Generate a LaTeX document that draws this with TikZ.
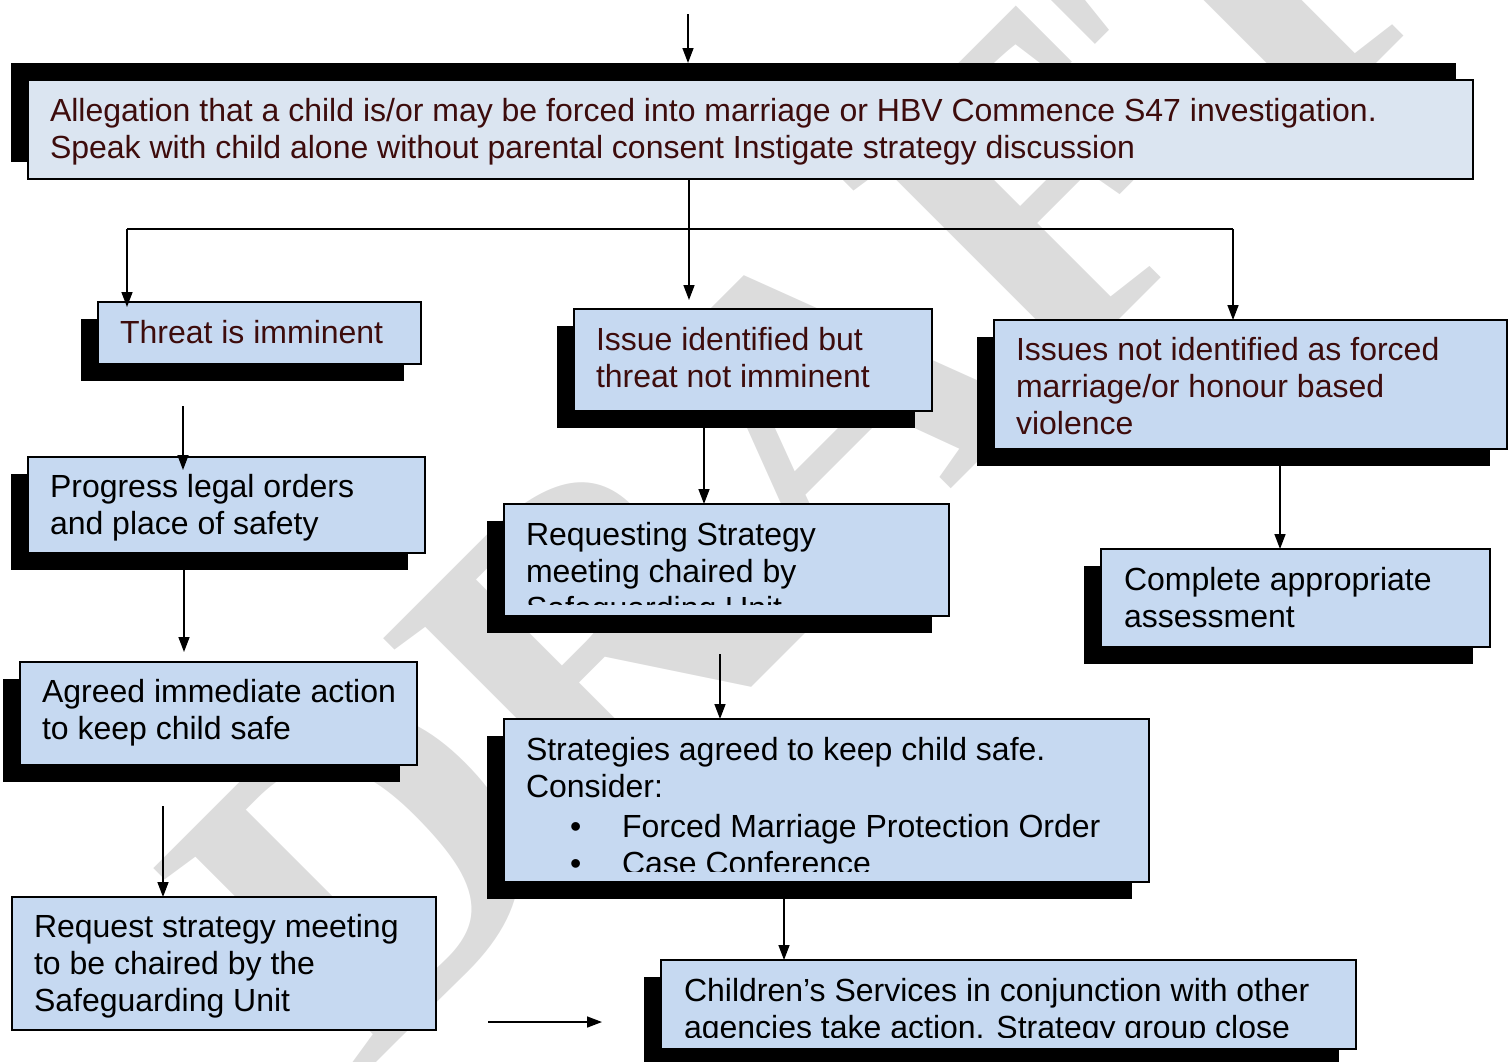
\documentclass[tikz,border=0pt]{standalone}
\usepackage{fontspec}
\setmainfont{Liberation Sans}
\newfontfamily\wmfont{Liberation Serif}
\usetikzlibrary{arrows.meta,shadows,calc}
\definecolor{boxblue}{HTML}{C6D9F1}
\definecolor{boxpale}{HTML}{DBE5F1}
\definecolor{textred}{HTML}{3D0C0C}
\definecolor{wmgray}{HTML}{DCDCDC}
\tikzset{
  box/.style={draw=black, line width=2.2pt, fill=boxblue, anchor=north west,
              inner sep=0pt, outer sep=0pt},
  shadowdl/.style={drop shadow={shadow xshift=-17pt, shadow yshift=-17pt,
              fill=black, opacity=1}},
  shadowul/.style={drop shadow={shadow xshift=-17pt, shadow yshift=17pt,
              fill=black, opacity=1}},
  txt/.style={anchor=base west, inner sep=0pt, outer sep=0pt,
              font=\fontsize{32}{37}\selectfont},
  conn/.style={line width=1.5pt, -{Triangle[length=15pt,width=11pt]}},
  plain/.style={line width=1.5pt},
}
\newcommand\pb[1]{\parbox[t]{1500pt}{\raggedright #1}}
\begin{document}
\begin{tikzpicture}[x=1pt,y=-1pt]
\useasboundingbox (0,0) rectangle (1512,1061);
\clip (0,0) rectangle (1512,1061);

% watermark
\node[rotate=45, text=wmgray, inner sep=0pt,
      font=\wmfont\bfseries\fontsize{450}{450}\selectfont] (wm) at (800,430) {DRAFT};

% boxes
\node[box, shadowul, fill=boxpale, minimum width=1445pt, minimum height=99pt] (top) at (28,80) {};
\node[txt, text=textred] (top-t) at (50,121)
  {\pb{Allegation that a child is/or may be forced into marriage or HBV Commence S47 investigation.\\
       Speak with child alone without parental consent Instigate strategy discussion}};

\node[box, shadowdl, minimum width=323pt, minimum height=62pt] (threat) at (98,302) {};
\node[txt, text=textred] (threat-t) at (120,343) {\pb{Threat is imminent}};

\node[box, shadowdl, minimum width=358pt, minimum height=102pt] (issue) at (574,309) {};
\node[txt, text=textred] (issue-t) at (596,350) {\pb{Issue identified but\\threat not imminent}};

\node[box, shadowdl, minimum width=513pt, minimum height=129pt] (notfm) at (994,320) {};
\node[txt, text=textred] (notfm-t) at (1016,360)
  {\pb{Issues not identified as forced\\marriage/or honour based\\violence}};

\node[box, shadowdl, minimum width=397pt, minimum height=96pt] (legal) at (28,457) {};
\node[txt] (legal-t) at (50,497) {\pb{Progress legal orders\\and place of safety}};

\node[box, shadowdl, minimum width=445pt, minimum height=112pt] (reqsu) at (504,504) {};
\begin{scope}
  \clip (reqsu.north west) rectangle ($(reqsu.south east)+(0,-12)$);
  \node[txt] (reqsu-t) at (526,545)
    {\pb{Requesting Strategy\\meeting chaired by\\Safeguarding Unit}};
\end{scope}

\node[box, shadowdl, minimum width=389pt, minimum height=98pt] (assess) at (1101,549) {};
\node[txt] (assess-t) at (1124,590) {\pb{Complete appropriate\\assessment}};

\node[box, shadowdl, minimum width=397pt, minimum height=103pt] (agreed) at (20,662) {};
\node[txt] (agreed-t) at (42,702) {\pb{Agreed immediate action\\to keep child safe}};

\node[box, shadowdl, minimum width=645pt, minimum height=163pt] (strat) at (504,719) {};
\begin{scope}
  \clip (strat.north west) rectangle ($(strat.south east)+(0,-11)$);
  \node[txt] (strat-t) at (526,760)
    {\pb{Strategies agreed to keep child safe.\\Consider:}};
  \node[txt] (strat-b1) at (570,837) {\pb{•}};
  \node[txt] (strat-i1) at (622,837) {\pb{Forced Marriage Protection Order}};
  \node[txt] (strat-b2) at (570,874) {\pb{•}};
  \node[txt] (strat-i2) at (622,874) {\pb{Case Conference}};
\end{scope}

\node[box, minimum width=424pt, minimum height=133pt] (reqmt) at (12,897) {};
\node[txt] (reqmt-t) at (34,937)
  {\pb{Request strategy meeting\\to be chaired by the\\Safeguarding Unit}};

\node[box, shadowdl, minimum width=695pt, minimum height=89pt] (close) at (661,960) {};
\begin{scope}
  \clip (close.north west) rectangle ($(close.south east)+(0,-12)$);
  \node[txt] (close-t) at (684,1001)
    {\pb{Children’s Services in conjunction with other\\agencies take action. Strategy group close}};
\end{scope}

% connectors
\coordinate (inlet) at (688,14);
\draw[conn, shorten >=17pt] (inlet) -- (inlet |- top.north);

\coordinate (split) at (689,229);
\coordinate (brL) at (127,229);
\coordinate (brR) at (1233,229);
\draw[conn, shorten >=9pt] (top.south -| split) -- (issue.north -| split);
\draw[plain] (brL) -- (brR);
\draw[conn, shorten >=-5pt] (brL) -- (brL |- threat.north);
\draw[conn] (brR) -- (brR |- notfm.north);

\coordinate (tl) at (183,406);
\draw[conn, shorten >=-13pt] (tl) -- (tl |- legal.north);
\coordinate (la) at (184,569);
\draw[conn, shorten >=10pt] (la) -- (la |- agreed.north);
\coordinate (ar) at (163,806);
\draw[conn] (ar) -- (ar |- reqmt.north);

\coordinate (ir) at (704,428);
\draw[conn] (ir) -- (ir |- reqsu.north);
\coordinate (rs) at (720,654);
\draw[conn] (rs) -- (rs |- strat.north);
\coordinate (sc) at (784,898);
\draw[conn] (sc) -- (sc |- close.north);

\coordinate (na) at (1280,466);
\draw[conn] (na) -- (na |- assess.north);

\coordinate (fa) at (488,1022);
\coordinate (fb) at (602,1022);
\draw[conn] (fa) -- (fb);
\end{tikzpicture}
\end{document}
